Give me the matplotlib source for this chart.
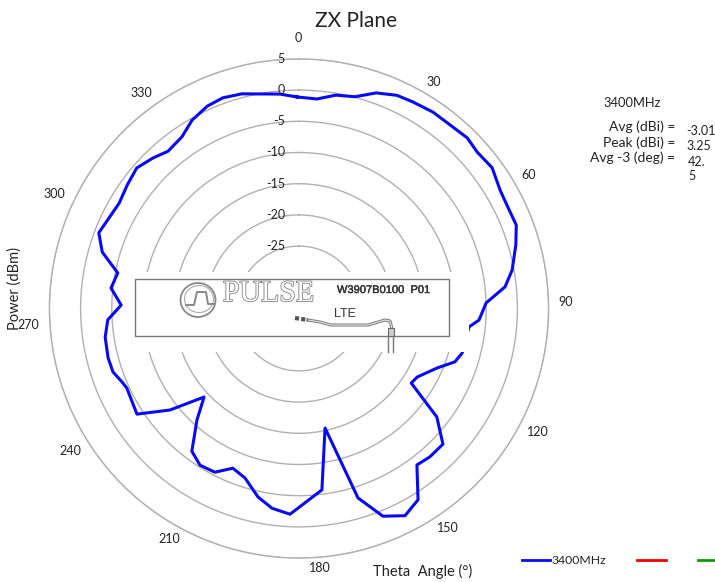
import numpy as np
import matplotlib
matplotlib.use("Agg")
import matplotlib.pyplot as plt
from matplotlib.patches import Rectangle, Ellipse
import matplotlib.patheffects as pe

# pattern, theta in degrees, gain in dB
theta_deg = [359.5, 4.9, 9.8, 14.8, 19.7, 24.7, 28.9, 34.3, 39.5, 44.6, 48.7, 53.9, 59.5, 64.3, 69.0, 73.7, 79.8, 84.0,
             88.3, 93.7, 96.2, 105.3, 108.9, 113.3, 120.1, 123.6, 128.2, 133.3, 138.6, 143.0, 148.1, 152.9, 158.0,
             162.7, 167.7, 172.8, 182.5, 187.7, 192.3, 197.7, 202.5, 207.2, 212.3, 216.9, 222.5, 227.0, 231.8, 236.9,
             245.2, 247.4, 251.2, 255.5, 261.6, 266.6, 271.1, 276.2, 281.1, 286.0, 290.7, 295.8, 300.4, 305.7, 310.9,
             315.9, 320.2, 325.7, 330.4, 335.6, 340.1, 345.1, 354.9]
gain_db = [-1.1, -1.3, -0.3, 0.1, 1.7, 2.6, 2.8, 3.1, 3.1, 3.4, 3.0, 3.3, 2.4, 2.2, 2.3, 1.2, -0.3, -1.8,
           -5.0, -6.1, -7.6, -7.9, -8.6, -10.9, -13.1, -13.4, -6.9, -3.3, -3.3, -3.6, 1.1, 2.3, 0.9,
           -3.2, -15.4, -5.7, -2.0, -2.7, -4.1, -6.5, -7.3, -5.5, -5.3, -6.4, -10.8, -14.2, -8.7, -4.0,
           -4.6, -4.3, -3.5, -3.4, -3.6, -4.3, -6.5, -4.7, -5.4, -2.2, -0.7, -1.3, -1.6, -1.1, -0.6,
           -1.4, -2.2, -1.7, -0.3, 0.6, 0.9, 0.6, -0.5]
ring_ticks = [5, 0, -5, -10, -15, -20, -25, -30]
angle_labels = ["0", "30", "60", "90", "120", "150", "180", "210", "240", "270", "300", "330"]
angle_label_xy = [(298, 38), (434, 82), (529, 175), (566, 302), (538, 432), (448, 528),
                  (320, 568), (169, 539), (70, 451), (28, 325), (54, 194), (141, 93)]
freq = "3400MHz"
stat_names = ["Avg (dBi) =", "Peak (dBi) =", "Avg -3 (deg) ="]
stat_values = ["-3.01", "3.25", "42.\n5"]

plt.rcParams['font.family'] = ['Lato', 'DejaVu Sans']
W, H = 715, 582
GREY = '#b0b0b0'
TXT = '#222222'
fig = plt.figure(figsize=(W / 100, H / 100), dpi=100)

cx, cy, rad = 299, 308.5, 249.6
ax = fig.add_axes([(cx - rad) / W, (H - cy - rad) / H, 2 * rad / W, 2 * rad / H], projection='polar')
ax.set_theta_zero_location('N')
ax.set_theta_direction(-1)
ax.set_rlim(-35, 5)
ax.set_xticks([])
ax.set_yticks(ring_ticks)
ax.set_yticklabels([])
ax.grid(True, color=GREY, lw=1.0)
ax.spines['polar'].set_color(GREY)
ax.spines['polar'].set_linewidth(1.0)
ax.plot(np.deg2rad(theta_deg + theta_deg[:1]), gain_db + gain_db[:1], color='#0a0af0', lw=2.2, zorder=5,
        solid_joinstyle='round')

# overlay in pixel coords for everything that is not the polar plot itself
ov = fig.add_axes([0, 0, 1, 1], facecolor='none')
ov.set_xlim(0, W)
ov.set_ylim(H, 0)
ov.axis('off')

for t in ring_ticks[:-1]:
    ov.text(285, cy - (t + 35) * rad / 40, str(t), ha='right', va='center', fontsize=9, color=TXT)
for lab, (x, y) in zip(angle_labels, angle_label_xy):
    ov.text(x, y, lab, ha='center', va='center', fontsize=9, color=TXT)

ov.text(356, 21, "ZX Plane", ha='center', va='center', fontsize=15, color=TXT)
ov.text(15, 288, "Power (dBm)", rotation=90, ha='center', va='center', fontsize=10.5, color=TXT)
ov.text(423, 571, "Theta  Angle (°)", ha='center', va='center', fontsize=10.5, color=TXT)

# picture of the antenna pasted over the plot
ov.add_patch(Rectangle((123, 272), 346, 80, fc='white', ec='none', zorder=2))
ov.add_patch(Rectangle((135, 279), 314, 56.5, fc='white', ec='#777777', lw=1.0, zorder=3))
ov.text(268.5, 294, "PULSE", ha='center', va='center', fontsize=21.5, family='Liberation Serif', color='white',
        zorder=4, path_effects=[pe.withStroke(linewidth=1.2, foreground='#808080')])
ov.add_patch(Ellipse((198, 300), 35, 34, fc='none', ec='#888888', lw=1.3, zorder=4))
ov.add_patch(Ellipse((199, 299), 29, 27, fc='none', ec='#aaaaaa', lw=0.8, zorder=4))
ov.plot([186, 194, 197, 206, 208, 214], [305, 305, 292, 292, 304, 304], color='#888888', lw=1.4, zorder=4)
ov.text(383.5, 290, "W3907B0100  P01", ha='center', va='center', fontsize=8, family='Liberation Sans',
        color='#333333', zorder=4, path_effects=[pe.withStroke(linewidth=0.3, foreground='#333333')])
ov.text(345, 314, "LTE", ha='center', va='center', fontsize=9, family='Liberation Sans', color='#333333', zorder=4)
cable_x = [308, 320, 331, 368, 385, 390, 392]
cable_y = [320, 322, 325, 325, 320, 321, 329]
ov.plot(cable_x, cable_y, color='#777777', lw=2.2, zorder=4)
ov.plot(cable_x, cable_y, color='#e8e8e8', lw=0.8, zorder=4)
ov.plot([295, 308], [318, 320], color='#555555', lw=3, ls=(0, (1, 0.5)), zorder=4)
ov.add_patch(Rectangle((388, 328), 6, 8, fc='#cccccc', ec='#666666', lw=0.8, zorder=4))
ov.plot([388, 388], [336, 352], color='#777777', lw=1, zorder=4)
ov.plot([393, 393], [336, 352], color='#777777', lw=1, zorder=4)

# side panel
ov.text(603, 103, freq, ha='left', va='center', fontsize=9.3, color=TXT)
for name, y in zip(stat_names, [127, 143, 158]):
    ov.text(675, y, name, ha='right', va='center', fontsize=10, color=TXT)
ov.text(686, 131, stat_values[0], ha='left', va='center', fontsize=9, color=TXT)
ov.text(686, 146, stat_values[1], ha='left', va='center', fontsize=9, color=TXT)
ov.text(688, 169, stat_values[2], ha='left', va='center', fontsize=9, color=TXT, linespacing=1.3)

# legend row, the two other series have no name
ov.plot([522, 550], [560, 560], color='#0a0af0', lw=2)
ov.text(552, 560, freq, ha='left', va='center', fontsize=8.8, color=TXT)
ov.plot([637, 666], [560, 560], color='#f00000', lw=2)
ov.plot([698, 715], [560, 560], color='#0a9a0a', lw=2)

fig.savefig("out.png", dpi=100)
